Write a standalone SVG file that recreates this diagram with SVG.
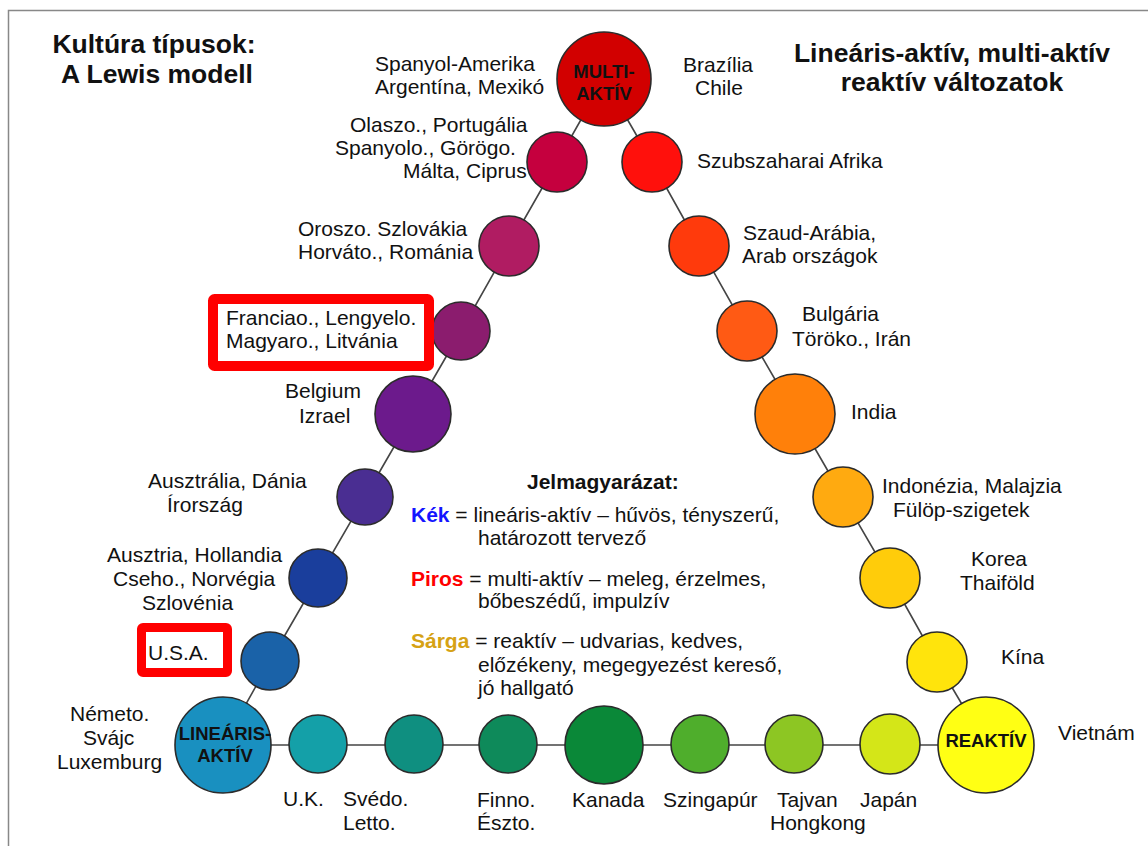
<svg xmlns="http://www.w3.org/2000/svg" width="1148" height="846" viewBox="0 0 1148 846">
  <style>
    text { font-family: "Liberation Sans", Arial, sans-serif; fill: #111; }
    .lbl { font-size: 21px; }
    .title { font-size: 26.5px; font-weight: bold; }
    .core { font-size: 18.5px; font-weight: bold; text-anchor: middle; }
    .node { stroke: #2b2b2b; stroke-width: 1.6; }
    .link { stroke: #454545; stroke-width: 1.6; fill: none; }
    .hl { fill: none; stroke: #ff0000; }
    .leg { font-size: 21px; }
    .b { font-weight: bold; }
  </style>

  <!-- frame -->
  <path d="M8.5,846 V10.5 H1148" fill="none" stroke="#888" stroke-width="1.5"/>

  <!-- titles -->
  <g id="title-left">
    <text class="title" x="154" y="53" text-anchor="middle">Kultúra típusok:</text>
    <text class="title" x="157" y="83" text-anchor="middle">A Lewis modell</text>
  </g>
  <g id="title-right">
    <text class="title" x="952" y="62" text-anchor="middle">Lineáris-aktív, multi-aktív</text>
    <text class="title" x="952" y="91" text-anchor="middle">reaktív változatok</text>
  </g>

  <!-- connectors -->
  <g id="connectors">
    <polyline class="link" points="223,745 270,661 318,578 365,497 413,414 461,331 509,246 557,162 604,79"/>
    <polyline class="link" points="604,79 652,162 699,246 747,331 795,414 843,497 890,578 937,662 986,745"/>
    <polyline class="link" points="223,745 318,745 414,745 508,745 604,745 700,745 794,745 890,745 986,745"/>
  </g>

  <!-- corners -->
  <g id="node-multi">
    <circle class="node" cx="604" cy="79" r="47" fill="#d20000"/>
    <text class="core" x="604" y="78">MULTI-</text>
    <text class="core" x="604" y="100">AKTÍV</text>
    <text class="lbl" x="375" y="71">Spanyol-Amerika</text>
    <text class="lbl" x="375" y="94">Argentína, Mexikó</text>
    <text class="lbl" x="683" y="72">Brazília</text>
    <text class="lbl" x="695" y="95">Chile</text>
  </g>
  <g id="node-linear">
    <circle class="node" cx="223" cy="745" r="48" fill="#1990c0"/>
    <text class="core" x="225" y="740">LINEÁRIS-</text>
    <text class="core" x="225" y="762">AKTÍV</text>
    <text class="lbl" x="70" y="721">Németo.</text>
    <text class="lbl" x="83" y="745">Svájc</text>
    <text class="lbl" x="57" y="769">Luxemburg</text>
  </g>
  <g id="node-reactive">
    <circle class="node" cx="986" cy="745" r="48" fill="#ffff14"/>
    <text class="core" x="986" y="747">REAKTÍV</text>
    <text class="lbl" x="1058" y="740">Vietnám</text>
  </g>

  <!-- left side: multi-active to linear-active -->
  <g id="node-l1">
    <circle class="node" cx="557" cy="162" r="30" fill="#c5003e"/>
    <text class="lbl" x="350" y="132">Olaszo., Portugália</text>
    <text class="lbl" x="335" y="155">Spanyolo., Görögo.</text>
    <text class="lbl" x="403" y="178">Málta, Ciprus</text>
  </g>
  <g id="node-l2">
    <circle class="node" cx="509" cy="246" r="30" fill="#b01c62"/>
    <text class="lbl" x="298" y="236">Oroszo. Szlovákia</text>
    <text class="lbl" x="298" y="259">Horváto., Románia</text>
  </g>
  <g id="node-l3">
    <circle class="node" cx="461" cy="331" r="29" fill="#8b1c6e"/>
    <rect class="hl" x="213" y="299" width="216" height="67" rx="1.5" stroke-width="10"/>
    <text class="lbl" x="226" y="325">Franciao., Lengyelo.</text>
    <text class="lbl" x="226" y="348">Magyaro., Litvánia</text>
  </g>
  <g id="node-l4">
    <circle class="node" cx="413" cy="414" r="38" fill="#6c1a8c"/>
    <text class="lbl" x="285" y="398">Belgium</text>
    <text class="lbl" x="299" y="423">Izrael</text>
  </g>
  <g id="node-l5">
    <circle class="node" cx="365" cy="497" r="28" fill="#4a2e92"/>
    <text class="lbl" x="148" y="488">Ausztrália, Dánia</text>
    <text class="lbl" x="167" y="512">Írország</text>
  </g>
  <g id="node-l6">
    <circle class="node" cx="318" cy="578" r="29" fill="#1a3e9c"/>
    <text class="lbl" x="107" y="562">Ausztria, Hollandia</text>
    <text class="lbl" x="113" y="586">Cseho., Norvégia</text>
    <text class="lbl" x="142" y="610">Szlovénia</text>
  </g>
  <g id="node-l7">
    <circle class="node" cx="270" cy="661" r="29" fill="#1a62a8"/>
    <rect class="hl" x="141.5" y="627.5" width="86" height="45" rx="1.5" stroke-width="9"/>
    <text class="lbl" x="148" y="660">U.S.A.</text>
  </g>

  <!-- bottom row: linear-active to reactive -->
  <g id="node-b1">
    <circle class="node" cx="318" cy="744" r="29" fill="#14a0a8"/>
    <text class="lbl" x="283" y="806">U.K.</text>
  </g>
  <g id="node-b2">
    <circle class="node" cx="414" cy="744" r="29" fill="#0f8f80"/>
    <text class="lbl" x="343" y="806">Svédo.</text>
    <text class="lbl" x="343" y="830">Letto.</text>
  </g>
  <g id="node-b3">
    <circle class="node" cx="508" cy="744" r="29" fill="#0e8a5a"/>
    <text class="lbl" x="477" y="807">Finno.</text>
    <text class="lbl" x="477" y="830">Észto.</text>
  </g>
  <g id="node-b4">
    <circle class="node" cx="604" cy="745" r="39" fill="#0a8838"/>
    <text class="lbl" x="572" y="807">Kanada</text>
  </g>
  <g id="node-b5">
    <circle class="node" cx="700" cy="744" r="29" fill="#4fae2c"/>
    <text class="lbl" x="663" y="807">Szingapúr</text>
  </g>
  <g id="node-b6">
    <circle class="node" cx="794" cy="744" r="29" fill="#8dc623"/>
    <text class="lbl" x="777" y="807">Tajvan</text>
    <text class="lbl" x="770" y="830">Hongkong</text>
  </g>
  <g id="node-b7">
    <circle class="node" cx="890" cy="744" r="30" fill="#d4e618"/>
    <text class="lbl" x="860" y="807">Japán</text>
  </g>

  <!-- right side: multi-active to reactive -->
  <g id="node-r1">
    <circle class="node" cx="652" cy="162" r="30" fill="#ff100c"/>
    <text class="lbl" x="697" y="168">Szubszaharai Afrika</text>
  </g>
  <g id="node-r2">
    <circle class="node" cx="699" cy="246" r="30" fill="#ff3a0c"/>
    <text class="lbl" x="743" y="240">Szaud-Arábia,</text>
    <text class="lbl" x="742" y="263">Arab országok</text>
  </g>
  <g id="node-r3">
    <circle class="node" cx="747" cy="331" r="30" fill="#ff5a14"/>
    <text class="lbl" x="802" y="321">Bulgária</text>
    <text class="lbl" x="792" y="346">Töröko., Irán</text>
  </g>
  <g id="node-r4">
    <circle class="node" cx="795" cy="414" r="40" fill="#ff800a"/>
    <text class="lbl" x="851" y="419">India</text>
  </g>
  <g id="node-r5">
    <circle class="node" cx="843" cy="497" r="30" fill="#ffaa10"/>
    <text class="lbl" x="882" y="493">Indonézia, Malajzia</text>
    <text class="lbl" x="893" y="517">Fülöp-szigetek</text>
  </g>
  <g id="node-r6">
    <circle class="node" cx="890" cy="578" r="30" fill="#ffcc0a"/>
    <text class="lbl" x="971" y="566">Korea</text>
    <text class="lbl" x="960" y="590">Thaiföld</text>
  </g>
  <g id="node-r7">
    <circle class="node" cx="937" cy="662" r="30" fill="#ffe40c"/>
    <text class="lbl" x="1001" y="664">Kína</text>
  </g>

  <!-- legend -->
  <g id="legend">
    <text class="leg b" x="527" y="489">Jelmagyarázat:</text>
    <text class="leg" x="411" y="522"><tspan class="b" fill="#1414ff">Kék</tspan> = lineáris-aktív – hűvös, tényszerű,</text>
    <text class="leg" x="478" y="545">határozott tervező</text>
    <text class="leg" x="411" y="586"><tspan class="b" fill="#ff0000">Piros</tspan> = multi-aktív – meleg, érzelmes,</text>
    <text class="leg" x="478" y="608">bőbeszédű, impulzív</text>
    <text class="leg" x="411" y="648"><tspan class="b" fill="#d6a214">Sárga</tspan> = reaktív – udvarias, kedves,</text>
    <text class="leg" x="478" y="672">előzékeny, megegyezést kereső,</text>
    <text class="leg" x="478" y="695">jó hallgató</text>
  </g>
</svg>
